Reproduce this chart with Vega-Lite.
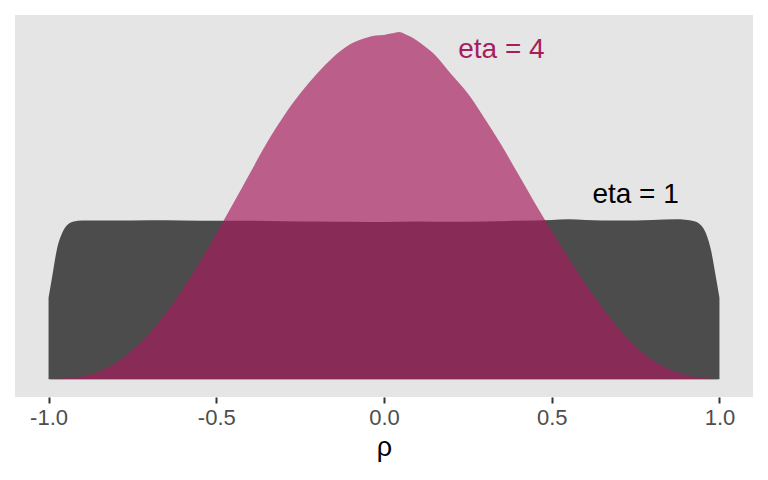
{
  "$schema": "https://vega.github.io/schema/vega-lite/v6.json",
  "width": 738,
  "height": 382,
  "autosize": "none",
  "padding": {"left": 15, "top": 15, "right": 15, "bottom": 83},
  "background": "white",
  "config": {
    "font": "Liberation Sans",
    "view": {"fill": "#e5e5e5", "stroke": null}
  },
  "datasets": {
    "dens": [
      {"rho": -1.0, "density": 0.258, "eta": "1"},
      {"rho": -0.99, "density": 0.32, "eta": "1"},
      {"rho": -0.975, "density": 0.412, "eta": "1"},
      {"rho": -0.96, "density": 0.462, "eta": "1"},
      {"rho": -0.945, "density": 0.488, "eta": "1"},
      {"rho": -0.925, "density": 0.5, "eta": "1"},
      {"rho": -0.9, "density": 0.503, "eta": "1"},
      {"rho": -0.8, "density": 0.503, "eta": "1"},
      {"rho": -0.7, "density": 0.504, "eta": "1"},
      {"rho": -0.6, "density": 0.503, "eta": "1"},
      {"rho": -0.5, "density": 0.502, "eta": "1"},
      {"rho": -0.4, "density": 0.502, "eta": "1"},
      {"rho": -0.3, "density": 0.501, "eta": "1"},
      {"rho": -0.2, "density": 0.5, "eta": "1"},
      {"rho": -0.1, "density": 0.499, "eta": "1"},
      {"rho": 0.0, "density": 0.498, "eta": "1"},
      {"rho": 0.1, "density": 0.5, "eta": "1"},
      {"rho": 0.2, "density": 0.499, "eta": "1"},
      {"rho": 0.3, "density": 0.5, "eta": "1"},
      {"rho": 0.4, "density": 0.502, "eta": "1"},
      {"rho": 0.5, "density": 0.505, "eta": "1"},
      {"rho": 0.55, "density": 0.507, "eta": "1"},
      {"rho": 0.6, "density": 0.505, "eta": "1"},
      {"rho": 0.7, "density": 0.503, "eta": "1"},
      {"rho": 0.8, "density": 0.505, "eta": "1"},
      {"rho": 0.87, "density": 0.507, "eta": "1"},
      {"rho": 0.925, "density": 0.501, "eta": "1"},
      {"rho": 0.945, "density": 0.488, "eta": "1"},
      {"rho": 0.96, "density": 0.462, "eta": "1"},
      {"rho": 0.975, "density": 0.408, "eta": "1"},
      {"rho": 0.99, "density": 0.32, "eta": "1"},
      {"rho": 1.0, "density": 0.258, "eta": "1"},
      {"rho": -1.0, "density": 0.0, "eta": "4"},
      {"rho": -0.95, "density": 0.003, "eta": "4"},
      {"rho": -0.9, "density": 0.01, "eta": "4"},
      {"rho": -0.85, "density": 0.025, "eta": "4"},
      {"rho": -0.8, "density": 0.052, "eta": "4"},
      {"rho": -0.75, "density": 0.092, "eta": "4"},
      {"rho": -0.7, "density": 0.144, "eta": "4"},
      {"rho": -0.65, "density": 0.209, "eta": "4"},
      {"rho": -0.6, "density": 0.285, "eta": "4"},
      {"rho": -0.55, "density": 0.37, "eta": "4"},
      {"rho": -0.5, "density": 0.461, "eta": "4"},
      {"rho": -0.45, "density": 0.556, "eta": "4"},
      {"rho": -0.4, "density": 0.652, "eta": "4"},
      {"rho": -0.35, "density": 0.748, "eta": "4"},
      {"rho": -0.3, "density": 0.832, "eta": "4"},
      {"rho": -0.25, "density": 0.905, "eta": "4"},
      {"rho": -0.2, "density": 0.968, "eta": "4"},
      {"rho": -0.15, "density": 1.022, "eta": "4"},
      {"rho": -0.1, "density": 1.062, "eta": "4"},
      {"rho": -0.05, "density": 1.083, "eta": "4"},
      {"rho": -0.025, "density": 1.089, "eta": "4"},
      {"rho": 0.0, "density": 1.091, "eta": "4"},
      {"rho": 0.025, "density": 1.096, "eta": "4"},
      {"rho": 0.045, "density": 1.1, "eta": "4"},
      {"rho": 0.06, "density": 1.095, "eta": "4"},
      {"rho": 0.08, "density": 1.085, "eta": "4"},
      {"rho": 0.1, "density": 1.072, "eta": "4"},
      {"rho": 0.125, "density": 1.052, "eta": "4"},
      {"rho": 0.15, "density": 1.03, "eta": "4"},
      {"rho": 0.2, "density": 0.967, "eta": "4"},
      {"rho": 0.25, "density": 0.905, "eta": "4"},
      {"rho": 0.3, "density": 0.826, "eta": "4"},
      {"rho": 0.35, "density": 0.742, "eta": "4"},
      {"rho": 0.4, "density": 0.65, "eta": "4"},
      {"rho": 0.45, "density": 0.558, "eta": "4"},
      {"rho": 0.5, "density": 0.47, "eta": "4"},
      {"rho": 0.55, "density": 0.385, "eta": "4"},
      {"rho": 0.6, "density": 0.303, "eta": "4"},
      {"rho": 0.65, "density": 0.228, "eta": "4"},
      {"rho": 0.7, "density": 0.16, "eta": "4"},
      {"rho": 0.75, "density": 0.104, "eta": "4"},
      {"rho": 0.8, "density": 0.061, "eta": "4"},
      {"rho": 0.85, "density": 0.032, "eta": "4"},
      {"rho": 0.9, "density": 0.014, "eta": "4"},
      {"rho": 0.95, "density": 0.004, "eta": "4"},
      {"rho": 1.0, "density": 0.0, "eta": "4"}
    ],
    "labels": [
      {"rho": 0.35, "density": 1.017, "label": "eta = 4", "eta": "4"},
      {"rho": 0.75, "density": 0.5575, "label": "eta = 1", "eta": "1"}
    ]
  },
  "encoding": {
    "x": {
      "field": "rho",
      "type": "quantitative",
      "scale": {"domain": [-1.1, 1.1], "nice": false, "zero": false},
      "axis": {
        "title": "ρ",
        "values": [-1, -0.5, 0, 0.5, 1],
        "labelExpr": "datum.value < 0 ? '-' + format(-datum.value, '.1f') : format(datum.value, '.1f')",
        "grid": false,
        "domain": false,
        "ticks": true,
        "tickSize": 6,
        "tickWidth": 2,
        "tickColor": "#333333",
        "labelFontSize": 22,
        "labelColor": "#4d4d4d",
        "labelPadding": 4,
        "labelFont": "Liberation Sans",
        "titleFont": "Liberation Sans",
        "titleFontSize": 27,
        "titleFontWeight": "normal",
        "titleColor": "#000000",
        "titlePadding": 6
      }
    },
    "y": {
      "field": "density",
      "type": "quantitative",
      "scale": {"domain": [-0.056, 1.154], "nice": false, "zero": false},
      "axis": null
    },
    "color": {
      "field": "eta",
      "type": "nominal",
      "scale": {"domain": ["1", "4"], "range": ["#000000", "#a51d5d"]},
      "legend": null
    }
  },
  "layer": [
    {
      "data": {"name": "dens"},
      "transform": [{"filter": "datum.eta === '1'"}],
      "mark": {"type": "area", "interpolate": "monotone", "opacity": 0.67},
      "encoding": {"y2": {"datum": 0}}
    },
    {
      "data": {"name": "dens"},
      "transform": [{"filter": "datum.eta === '4'"}],
      "mark": {"type": "area", "interpolate": "monotone", "opacity": 0.67},
      "encoding": {"y2": {"datum": 0}}
    },
    {
      "data": {"name": "labels"},
      "mark": {"type": "text", "align": "center", "baseline": "alphabetic", "fontSize": 28, "font": "Liberation Sans"},
      "encoding": {"text": {"field": "label"}}
    }
  ]
}
